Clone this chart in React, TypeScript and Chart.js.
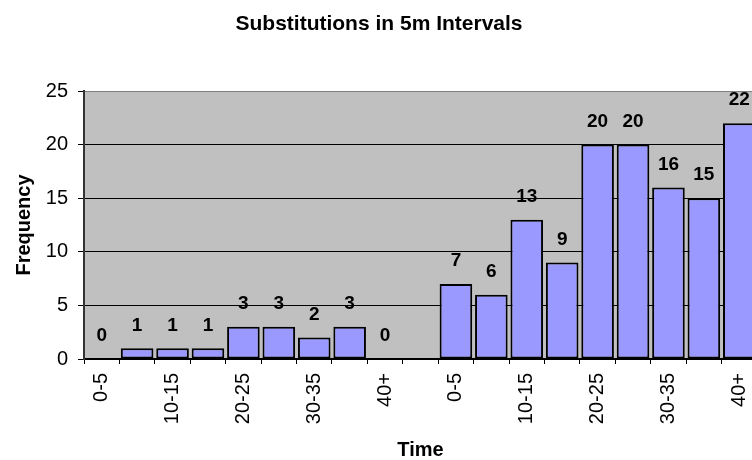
import React, { useEffect, useRef } from 'react';
import { Chart, registerables } from 'chart.js';

Chart.register(...registerables);

const chartTitle = 'Substitutions in 5m Intervals';
const yAxisTitle = 'Frequency';
const xAxisTitle = 'Time';
const intervals = ['0-5', '5-10', '10-15', '15-20', '20-25', '25-30', '30-35', '35-40', '40+'];
const firstPeriod = [0, 1, 1, 1, 3, 3, 2, 3, 0];
const secondPeriod = [7, 6, 13, 9, 20, 20, 16, 15, 22];
const yMin = 0;
const yMax = 25;
const yStep = 5;

const labels = [...intervals, '', ...intervals];
const values: (number | null)[] = [...firstPeriod, null, ...secondPeriod];

const FONT = '"Liberation Sans", Arial, sans-serif';

export default function App() {
  const ref = useRef<HTMLCanvasElement>(null);

  useEffect(() => {
    document.body.style.margin = '0';
    document.body.style.overflow = 'hidden';
    const canvas = ref.current;
    if (!canvas) return;

    const overlay = {
      id: 'overlay',
      beforeDraw(chart: any) {
        const { ctx, chartArea: a } = chart;
        ctx.save();
        ctx.fillStyle = '#C0C0C0';
        ctx.fillRect(a.left, a.top, a.right - a.left, a.bottom - a.top);
        ctx.restore();
      },
      afterDatasetsDraw(chart: any) {
        const { ctx, chartArea: a } = chart;
        const meta = chart.getDatasetMeta(0);
        ctx.save();
        ctx.fillStyle = '#000';
        ctx.textAlign = 'center';
        ctx.textBaseline = 'middle';
        ctx.font = `bold 19px ${FONT}`;
        meta.data.forEach((el: any, i: number) => {
          const v = values[i];
          if (v === null || v === undefined) return;
          ctx.fillText(String(v), el.x, el.y - 23);
        });
        ctx.font = `bold 21px ${FONT}`;
        ctx.fillText(chartTitle, 379, 24);
        ctx.font = `bold 20px ${FONT}`;
        ctx.fillText(xAxisTitle, (a.left + a.right) / 2, 450);
        ctx.translate(24, (a.top + a.bottom) / 2);
        ctx.rotate(-Math.PI / 2);
        ctx.fillText(yAxisTitle, 0, 0);
        ctx.restore();
      },
    };

    const chart = new Chart(canvas, {
      type: 'bar',
      data: {
        labels,
        datasets: [
          {
            data: values,
            backgroundColor: '#9999FF',
            borderColor: '#000000',
            borderWidth: 2,
            borderSkipped: false,
            barPercentage: 0.92,
            categoryPercentage: 1,
          },
        ],
      },
      options: {
        responsive: false,
        animation: false,
        devicePixelRatio: 1,
        layout: { padding: { top: 91, right: 33, left: 0, bottom: 0 } },
        plugins: {
          legend: { display: false },
          tooltip: { enabled: false },
          title: { display: false },
        },
        scales: {
          x: {
            afterFit: (scale: any) => {
              scale.height = 101;
            },
            grid: {
              offset: true,
              drawOnChartArea: false,
              drawTicks: true,
              tickLength: 5,
              tickColor: '#000',
            },
            border: { color: '#000', width: 2 },
            ticks: {
              autoSkip: false,
              minRotation: 90,
              maxRotation: 90,
              padding: 9,
              color: '#000',
              font: { family: FONT, size: 20 },
              callback: (_v: any, i: number) => (i % 2 === 0 ? labels[i] : ''),
            },
          },
          y: {
            min: yMin,
            max: yMax,
            afterFit: (scale: any) => {
              scale.width = 84;
            },
            grid: {
              color: (c: any) => (c.tick && c.tick.value === yMax ? '#808080' : '#000'),
              lineWidth: 1,
              tickLength: 6,
              tickColor: '#000',
            },
            border: { color: '#333', width: 2 },
            ticks: {
              stepSize: yStep,
              padding: 10,
              color: '#000',
              font: { family: FONT, size: 20 },
            },
          },
        },
      },
      plugins: [overlay],
    });

    return () => chart.destroy();
  }, []);

  return (
    <div style={{ width: 752, height: 460, overflow: 'hidden' }}>
      <canvas ref={ref} width={790} height={460} style={{ display: 'block' }} />
    </div>
  );
}
